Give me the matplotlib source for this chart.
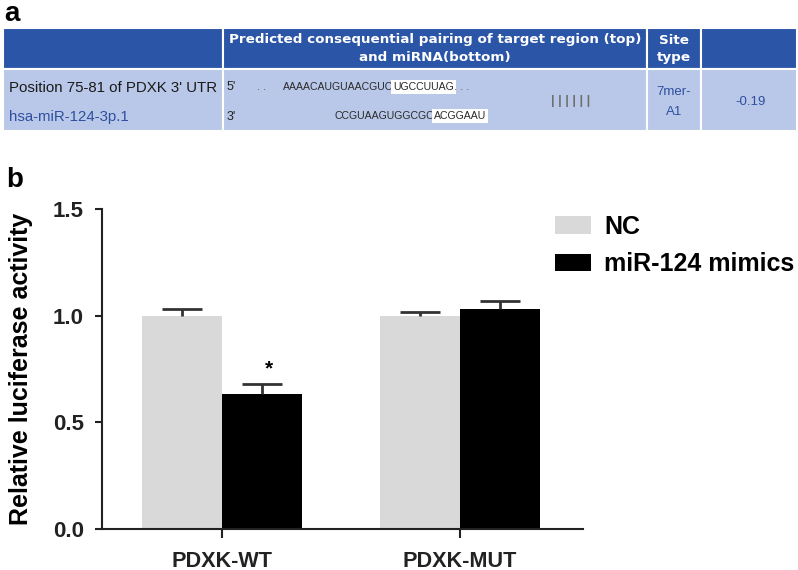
import matplotlib.pyplot as plt
from matplotlib.patches import Rectangle
import numpy as np

# ---- данные для графика b ----
groups = ['PDXK-WT', 'PDXK-MUT']
series = ['NC', 'miR-124 mimics']
nc_mean = [1.00, 1.00]
nc_err = [0.03, 0.015]
mimic_mean = [0.633, 1.03]
mimic_err = [0.047, 0.04]
yticks = [0.0, 0.5, 1.0, 1.5]

# ---- данные для таблицы a ----
header_line1 = ['', 'Predicted consequential pairing of target region (top)', 'Site', '']
header_line2 = ['', 'and miRNA(bottom)', 'type', '']
utr_label = "Position 75-81 of PDXK 3' UTR"
mirna_label = 'hsa-miR-124-3p.1'
utr_seq = ['AAAACAUGUAACGUC', 'UGCCUUAG']
mirna_seq = ['CCGUAAGUGGCGC', 'ACGGAAU']
site_type = ['7mer-', 'A1']
context_score = '-0.19'

plt.rcParams['font.family'] = ['Liberation Sans', 'DejaVu Sans']

fig = plt.figure(figsize=(7.98, 5.70), dpi=100)

# ---- таблица (координаты в пикселях) ----
tab = fig.add_axes([0, 0, 1, 1])
tab.set_xlim(0, 798)
tab.set_ylim(570, 0)
tab.set_axis_off()

col_edges = [3, 223, 647, 701, 797]
row_edges = [28, 69, 131]
head_color = '#2b55a6'
body_color = '#b9c8e8'
blue_txt = '#2f4f9f'

for i in range(4):
    x0, x1 = col_edges[i], col_edges[i + 1]
    tab.add_patch(Rectangle((x0, row_edges[0]), x1 - x0, row_edges[1] - row_edges[0],
                            fc=head_color, ec='white', lw=1.5))
    tab.add_patch(Rectangle((x0, row_edges[1]), x1 - x0, row_edges[2] - row_edges[1],
                            fc=body_color, ec='white', lw=1.5))
    cx = (x0 + x1) / 2
    hdr = dict(ha='center', va='center', color='white', fontsize=9.7,
               fontweight='bold', family='DejaVu Sans')
    tab.text(cx, 40, header_line1[i], **hdr)
    tab.text(cx, 58, header_line2[i], **hdr)

tab.text(4, 14, 'a', fontsize=20, fontweight='bold', va='center', ha='left')

tab.text(9, 88, utr_label, fontsize=10.8, color='#1a1a1a', va='center')
tab.text(9, 117, mirna_label, fontsize=10.8, color=blue_txt, va='center')

seq_kw = dict(fontsize=7.6, color='#2a2a2a', va='center')
tab.text(227, 87, "5'", fontsize=9, color='#222222', va='center')
tab.text(227, 117, "3'", fontsize=9, color='#222222', va='center')
tab.text(257, 87, '. .', fontsize=8, color='#555555', va='center')
tab.text(393, 87, utr_seq[0], ha='right', **seq_kw)
tab.text(393, 87, utr_seq[1], ha='left',
         bbox=dict(fc='white', ec='none', pad=1.5), **seq_kw)
tab.text(454, 87, '. . .', fontsize=8, color='#555555', va='center')
tab.text(434, 116, mirna_seq[0], ha='right', **seq_kw)
tab.text(434, 116, mirna_seq[1], ha='left',
         bbox=dict(fc='white', ec='none', pad=1.5), **seq_kw)
tab.text(571, 101, '| | | | | |', fontsize=9, fontweight='bold',
         color='#6e6e6e', ha='center', va='center')

tab.text(674, 92, site_type[0], fontsize=9.5, color=blue_txt, ha='center', va='center')
tab.text(674, 112, site_type[1], fontsize=9.5, color=blue_txt, ha='center', va='center')
tab.text(751, 102, context_score, fontsize=9.5, color=blue_txt, ha='center', va='center')

tab.text(6, 180, 'b', fontsize=20, fontweight='bold', va='center', ha='left')

# ---- график b ----
ax = fig.add_axes([102 / 798, 41 / 570, 481 / 798, 320 / 570])

x = np.arange(len(groups))
w = 0.336

ax.bar(x - w / 2, nc_mean, w, color='#d9d9d9', label=series[0], zorder=2)
ax.bar(x + w / 2, mimic_mean, w, color='black', label=series[1], zorder=2)

# планки погрешностей только вверх
for xs, m, e in [(x - w / 2, nc_mean, nc_err), (x + w / 2, mimic_mean, mimic_err)]:
    _, caps, _ = ax.errorbar(xs, m, yerr=[np.zeros(len(groups)), e], fmt='none',
                             ecolor='#333333', elinewidth=2, capsize=14.4,
                             capthick=2, zorder=3)
    caps[0].set_visible(False)

# звёздочка значимости над PDXK-WT
ax.text(x[0] + w / 2 + 0.03, mimic_mean[0] + mimic_err[0] + 0.025, '*',
        ha='center', va='bottom', fontsize=15, fontweight='bold')

ax.set_xlim(-0.504, 1.517)
ax.set_ylim(0, 1.5)
ax.set_yticks(yticks)
ax.set_yticklabels([f'{v:.1f}' for v in yticks])
ax.set_xticks(x)
ax.set_xticklabels(groups)

for side in ['top', 'right']:
    ax.spines[side].set_visible(False)
for side in ['left', 'bottom']:
    ax.spines[side].set_linewidth(1.5)
    ax.spines[side].set_color('#222222')

ax.tick_params(axis='y', length=5, width=1.5, pad=8, labelsize=16, colors='#222222')
ax.tick_params(axis='x', length=6.5, width=1.5, pad=9, labelsize=15.6, colors='#222222')
for lbl in ax.get_xticklabels() + ax.get_yticklabels():
    lbl.set_fontweight('bold')

ax.set_ylabel('Relative luciferase activity', fontsize=18, fontweight='bold')
ax.yaxis.label.set_verticalalignment('center')
ax.yaxis.set_label_coords(-0.168, 0.5)

ax.legend(loc='upper left', bbox_to_anchor=(555 / 798, 1 - 215 / 570),
          bbox_transform=fig.transFigure, frameon=False, borderpad=0,
          borderaxespad=0, handlelength=1.44, handleheight=0.72,
          handletextpad=0.52, labelspacing=0.53,
          prop=dict(size=18, weight='bold'))

fig.savefig('out.png', dpi=100)
